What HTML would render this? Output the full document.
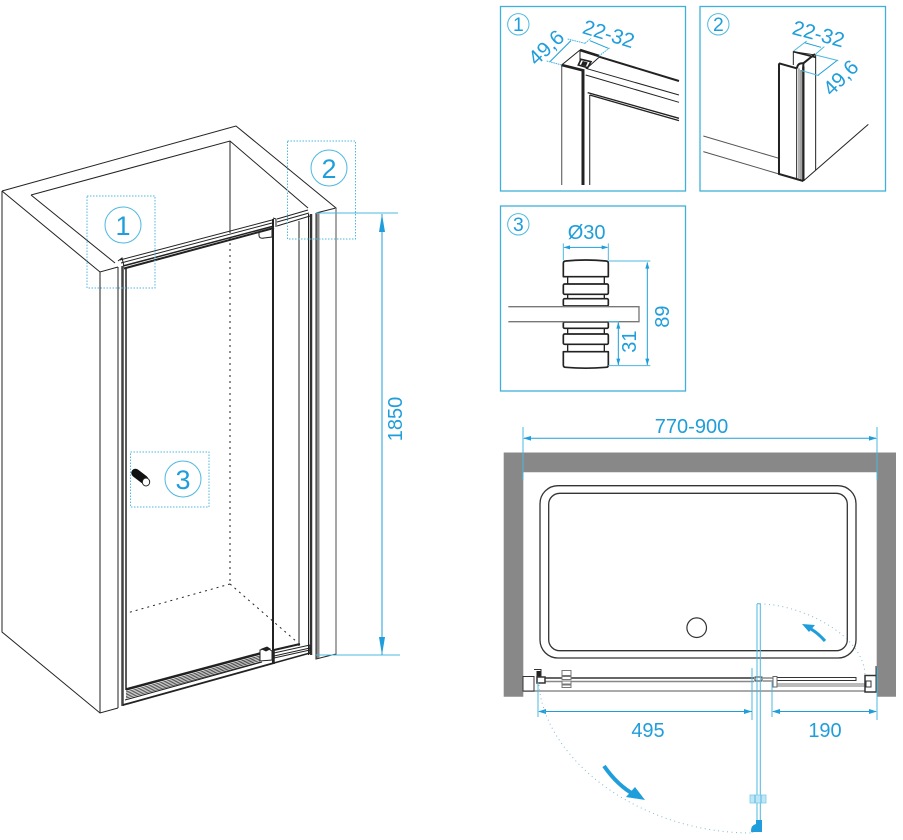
<!DOCTYPE html>
<html><head><meta charset="utf-8"><style>
html,body{margin:0;padding:0;background:#fff;width:903px;height:840px;overflow:hidden}
svg{display:block}
text{font-family:"Liberation Sans",sans-serif;fill:#1f9edb}
</style></head><body>
<svg width="903" height="840" viewBox="0 0 903 840" xmlns="http://www.w3.org/2000/svg">

<!-- isometric -->
<g fill="none" stroke="#222" stroke-width="1">
<path d="M2 191L236 126L336 208L316 213M2 191L100 272L118 267M31 195L230 141L308 208M31 195L115 263"/>
<path d="M230 141V231"/>
<path d="M2 191V632L100 713L118 708M100 272V713M118 267V708"/>
<path d="M230 231V584M230 584L127 613M230 584L297 642" stroke-dasharray="2 4"/>
<path d="M120 260L272 220M121 263L272 223"/>
<path d="M123 266L274 226" stroke-width="1.500"/>
<path d="M124 268.500L274 228" stroke-width="2"/>
<path d="M277 226L310 216M277 222L309 213M277 219L308 210"/>
<path d="M122.500 266V706" stroke="#444" stroke-width="2.500"/>
<path d="M126 268V690" stroke-width="1.500"/>
<path d="M273 219V664" stroke-width="2"/>
<path d="M299 221V646" stroke-width="1"/>
<path d="M308.500 214V655" stroke-width="1"/>
<path d="M311 214V655" stroke="#333" stroke-width="2.500"/>
<path d="M273 218L276 219V227M118 261L122 258L124 266"/>
<path d="M259 232V236Q260 239 264 238L272 237V230" stroke-width="1"/>
<path d="M126 689.500L260 653.500" stroke-width="2.500"/>
<path d="M126 692L260 656M126 693.500L260 657.500M126 695L260 659M126 696.500L260 660.500M126 698L260 662" stroke="#333" stroke-width=".8"/>
<path d="M125 700L262 662" stroke-width="1"/>
<path d="M123 705L274 663" stroke-width="1.800"/>
<path d="M274 663L310 653" stroke-width="1.500"/>
<path d="M274 650L300 644" stroke-width="2"/>
<path d="M274 653L310 645M274 656L310 648M274 658L310 650"/>
<path d="M310 645V653M274 650V664" stroke-width="1.500"/>
<path d="M260 653V661L272 660V651L267 648L260 650Z" fill="#fff"/>
<path d="M262 649L267 647L270 649L266 651Z" fill="#222"/>
<path d="M316 213V659L336 654V208"/>
</g>
<path d="M318 213V658" stroke="#8a8a8a" stroke-width="3"/>
<path d="M336 208V654" stroke="#888" stroke-width="1.500"/>
<path d="M135.500 473L144 479.500" stroke="#111" stroke-width="8.500" stroke-linecap="round"/>
<ellipse cx="146" cy="482" rx="3.700" ry="4" fill="#fff" stroke="#222"/>

<g fill="none" stroke="#4db8e0" stroke-width="1" stroke-dasharray="1.500 1.500">
<rect x="87" y="196" width="68" height="92"/>
<rect x="287.500" y="141" width="68" height="98"/>
<rect x="130.500" y="452" width="78.500" height="55"/>
</g>
<g fill="none" stroke="#4db8e0" stroke-width="1">
<circle cx="123" cy="225" r="18"/><circle cx="329" cy="168" r="18"/><circle cx="183" cy="479" r="18"/>
</g>
<g font-size="27" text-anchor="middle">
<text x="123" y="235">1</text><text x="329" y="178">2</text><text x="183" y="489">3</text>
</g>
<g stroke="#1f9edb" stroke-width="1" fill="none">
<path d="M316 213H398M316 655H400" stroke="#4db8e0"/>
<path d="M382 214V655"/>
</g>
<path d="M382 214L385 232H379ZM382 655L379 637H385Z" fill="#1f9edb"/>
<text transform="translate(402 419) rotate(-90)" font-size="20" text-anchor="middle">1850</text>

<!-- panels frame -->
<g fill="none" stroke="#3fb0dc" stroke-width="1.300">
<rect x="500.500" y="6.500" width="185" height="184.500"/>
<rect x="700" y="6.500" width="185.500" height="184.500"/>
<rect x="500.500" y="206" width="185" height="185"/>
</g>

<!-- panel 1 -->
<g transform="translate(495 0) scale(.3333)">
<g fill="none" stroke="#222" stroke-width="3">
<path d="M200 195V555" stroke="#777" stroke-width="4"/>
<path d="M264 210V555" stroke-width="9"/>
<path d="M284 285V555" stroke="#555" stroke-width="4"/>
<path d="M200 195L255 150"/>
<path d="M200 195L268 212" stroke-width="8"/>
<path d="M255 150L312 168" stroke-width="8"/>
<path d="M255 150V185M275 205L312 172"/>
<path d="M312 170L552 243" stroke-width="6"/>
<path d="M272 205L552 285M272 225L552 307"/>
<path d="M278 278L552 355M284 285L552 362" stroke-width="4"/>
<path d="M258 178L288 185L278 203L250 195Z" stroke-width="5"/>
<path d="M264 185L276 188L272 197L260 194Z" fill="#222"/>
</g>
<g fill="none" stroke="#4db8e0" stroke-width="3" stroke-dasharray="5 2">
<path d="M200 195L155 183M270 130L218 117"/>
<path d="M270 130L288 115M312 168L345 143"/>
</g>
<g fill="none" stroke="#1f9edb" stroke-width="3">
<path d="M165 185L228 122M285 122L340 145"/>
</g>
<circle cx="70" cy="73" r="32" fill="none" stroke="#4db8e0" stroke-width="3"/>
<text x="70" y="93" font-size="58" text-anchor="middle">1</text>
<text transform="translate(168 158) rotate(-43)" font-size="62" text-anchor="middle">49,6</text>
<text transform="translate(335 122) rotate(17)" font-size="62" text-anchor="middle">22-32</text>
</g>

<!-- panel 2 -->
<g transform="translate(695 0) scale(.3333)">
<g fill="none" stroke="#222" stroke-width="3">
<path d="M25 408L252 475M25 455L252 522" stroke="#555"/>
<path d="M252 190V522L325 543" stroke-width="6" fill="#fff"/>
<path d="M252 190L305 205" stroke-width="6"/>
<path d="M305 205V535"/>
<path d="M295 195V155L362 165V510"/>
<path d="M295 155L362 172" stroke-width="5"/>
<path d="M325 190L360 162" stroke-width="6"/>
<path d="M312 205V535" stroke="#666" stroke-width="3"/>
<path d="M325 200V543" stroke-width="7"/>
<path d="M318 210V538" stroke="#444" stroke-width="3"/>
<path d="M306 205Q308 188 325 190L325 210" stroke-width="6"/>
<path d="M325 543L520 373" stroke-width="3"/>
</g>
<g fill="none" stroke="#1f9edb" stroke-width="3">
<path d="M328 128L378 142M370 225L428 180"/>
<path d="M296 153L335 123M362 162L388 140M320 212L372 227M362 165L430 182" stroke="#4db8e0"/>
</g>
<circle cx="70" cy="73" r="32" fill="none" stroke="#4db8e0" stroke-width="3"/>
<text x="70" y="93" font-size="58" text-anchor="middle">2</text>
<text transform="translate(365 122) rotate(15)" font-size="62" text-anchor="middle">22-32</text>
<text transform="translate(452 248) rotate(-45)" font-size="62" text-anchor="middle">49,6</text>
</g>

<!-- panel 3 -->
<g transform="translate(495 200) scale(.3333)">
<g fill="#fff" stroke="#222" stroke-width="5">
<rect x="218" y="230" width="110" height="24" stroke-width="4"/>
<rect x="218" y="283" width="110" height="15" stroke-width="4"/>
<rect x="218" y="385" width="110" height="19" stroke-width="4"/>
<rect x="218" y="433" width="110" height="24" stroke-width="4"/>
<path d="M205 230V190Q205 183 212 183Q272 177 333 183Q340 183 340 190V230Z" stroke-linejoin="round"/>
<rect x="205" y="252" width="135" height="31" rx="4"/>
<rect x="205" y="296" width="135" height="22" rx="4"/>
<rect x="205" y="366" width="135" height="19" rx="4"/>
<rect x="205" y="402" width="135" height="31" rx="4"/>
<path d="M205 455V495Q205 502 212 502Q272 507 333 502Q340 502 340 495V455Z" stroke-linejoin="round"/>
</g>
<path d="M40 320H432V365H40" fill="#fff" stroke="#777" stroke-width="4"/>
<g fill="none" stroke="#1f9edb" stroke-width="3">
<path d="M205 130V180M340 130V180M340 183H466M340 497H466M340 365H372" stroke="#4db8e0"/>
<path d="M208 142H337M457 187V495M370 367V495"/>
</g>
<path d="M205 142L225 136V148ZM340 142L320 136V148ZM457 186L451 206H463ZM457 496L451 476H463ZM370 366L364 386H376ZM370 496L364 476H376Z" fill="#1f9edb"/>
<circle cx="70" cy="73" r="32" fill="none" stroke="#4db8e0" stroke-width="3"/>
<text x="70" y="93" font-size="58" text-anchor="middle">3</text>
<text x="275" y="117" font-size="60" text-anchor="middle">Ø30</text>
<text transform="translate(522 350) rotate(-90)" font-size="60" text-anchor="middle">89</text>
<text transform="translate(423 425) rotate(-90)" font-size="60" text-anchor="middle">31</text>
</g>

<!-- plan -->
<path d="M503.700 696.700V452.500H896V696.700H876.700V472.300H523.300V696.700Z" fill="#888"/>
<rect x="540" y="485.700" width="316" height="172.300" rx="18" fill="#fff" stroke="#333" stroke-width="1.300"/>
<rect x="548.700" y="493.300" width="298.600" height="157.400" rx="11" fill="#fff" stroke="#333" stroke-width="1.300"/>
<circle cx="696.700" cy="627.700" r="9.800" fill="#fff" stroke="#333" stroke-width="1.200"/>

<!-- door rail -->
<g fill="none" stroke="#333" stroke-width="1">
<path d="M538 678H754" stroke="#666" stroke-width="2"/>
<path d="M538 681.500H754" stroke="#888" stroke-width="1.500"/>
<path d="M523 691H865" stroke="#aaa" stroke-width="2"/>
<path d="M763 678H773M763 681H773" stroke="#888" stroke-width="1.500"/>
<path d="M777 677.500H856V680.500H777" stroke-width="1"/>
<path d="M777 684H865M777 686H865" stroke="#777" stroke-width="1"/>
<path d="M773 676.500H777V687H773Z" stroke="#666" fill="#fff"/>
<path d="M523 676.500H534V691H523Z" stroke-width="1" fill="#fff"/>
<path d="M534 669.500H541V678" stroke-width="1"/>
<rect x="536.500" y="671" width="4" height="6" fill="#222" stroke="none"/>
<rect x="537" y="677" width="8" height="6" stroke-width="1.500" fill="#fff"/>
<path d="M865 675.500H876.500V692H865Z" stroke-width="1.500" fill="#fff"/>
<rect x="866" y="681" width="5" height="6" fill="#fff"/>
<path d="M876 666V692" stroke-width="1"/>
<rect x="562" y="670.500" width="9" height="5" stroke="#777" fill="#fff"/>
<rect x="562" y="676.500" width="9" height="3" stroke="#777" fill="#fff"/>
<rect x="562" y="681" width="9" height="3" stroke="#777" fill="#fff"/>
<rect x="562" y="685" width="9" height="2.500" stroke="#777" fill="#fff"/>
<rect x="755" y="677" width="7" height="4" stroke-width="1"/>
</g>

<!-- blue door and dims -->
<g fill="none" stroke="#4db8e0">
<path d="M757 603.700H760.300V832" stroke-width="1"/>
<path d="M757 604V832" stroke-width="1"/>
<path d="M523 427V480M877 427V480M877 668V720M538 682V717M752 668V720M772 682V717" stroke-width="1"/>
<rect x="750" y="795" width="16" height="8" fill="#bfe6f6" stroke="#7ccbea" stroke-width=".8"/>
<path d="M755 795V803M761 795V803" stroke="#4db8e0"/>
</g>
<g fill="none" stroke="#1f9edb" stroke-width="1">
<path d="M524 438.300H876M539 711.500H752M773 711.500H876"/>
</g>
<path d="M523 438.300L531 436V440.600ZM877 438.300L869 436V440.600ZM538 711.500L546 709V714ZM752 711.500L744 709V714ZM772 711.500L780 709V714ZM877 711.500L869 709V714Z" fill="#1f9edb"/>
<path d="M751 831Q751 825 756 824V820H762V832H754Q751 833 751 831Z" fill="#1f9edb"/>
<g fill="none" stroke="#7fb9d1" stroke-width="1" stroke-dasharray="1 3.500">
<path d="M760 604C800 604 866 635 865 677"/>
<path d="M539 685C545 760 640 833 752 833"/>
</g>
<path d="M604 766Q618 786 635 795" fill="none" stroke="#1f9edb" stroke-width="4"/>
<path d="M645 800L626 797L635 787Z" fill="#1f9edb"/>
<path d="M825 641Q817 632 809 628" fill="none" stroke="#1f9edb" stroke-width="3"/>
<path d="M802 624L815 625L809 632Z" fill="#1f9edb"/>

<g font-size="20" text-anchor="middle">
<text x="691.500" y="433">770-900</text>
<text x="648" y="737">495</text>
<text x="825" y="737">190</text>
</g>
</svg>
</body></html>
